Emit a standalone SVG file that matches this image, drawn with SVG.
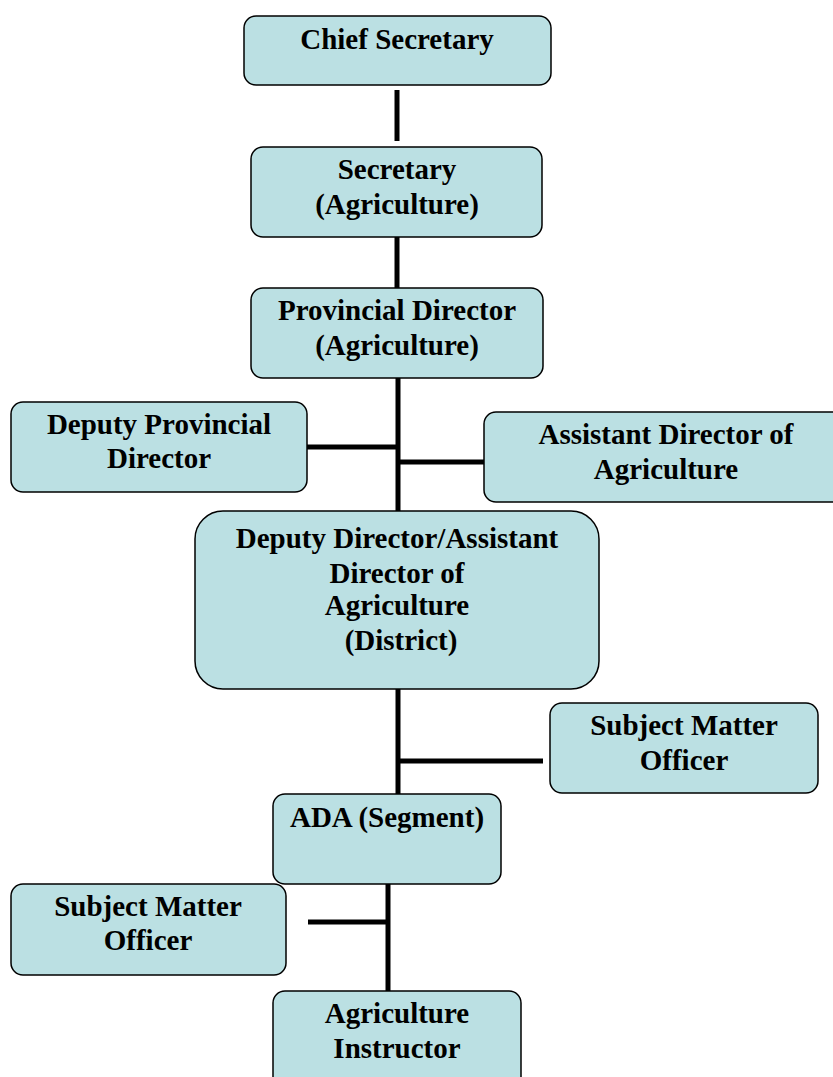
<svg xmlns="http://www.w3.org/2000/svg" width="833" height="1077" viewBox="0 0 833 1077">
<style>
.box{fill:#BBE0E3;stroke:#000;stroke-width:1.5}
.t{font-family:"Liberation Serif","Times New Roman",serif;font-weight:bold;font-size:29px;fill:#000;text-anchor:middle}
.c{stroke:#000;stroke-width:5;fill:none}
</style>
<rect width="833" height="1077" fill="#fff"/>
<g id="connectors">
<line class="c" x1="397" y1="90" x2="397" y2="141"/>
<line class="c" x1="397" y1="237" x2="397" y2="288"/>
<line class="c" x1="398" y1="378" x2="398" y2="511"/>
<line class="c" x1="307" y1="447" x2="398" y2="447"/>
<line class="c" x1="398" y1="462" x2="484" y2="462"/>
<line class="c" x1="398" y1="689" x2="398" y2="794"/>
<line class="c" x1="398" y1="761" x2="543" y2="761"/>
<line class="c" x1="388" y1="884" x2="388" y2="991"/>
<line class="c" x1="308" y1="922" x2="388" y2="922"/>
</g>
<g id="chief-secretary">
<rect class="box" x="244" y="16" width="307" height="69" rx="12"/>
<text class="t" x="397" y="49">Chief Secretary</text>
</g>
<g id="secretary">
<rect class="box" x="251" y="147" width="291" height="90" rx="12"/>
<text class="t" x="397" y="179">Secretary</text>
<text class="t" x="397" y="214">(Agriculture)</text>
</g>
<g id="provincial-director">
<rect class="box" x="251" y="288" width="292" height="90" rx="12"/>
<text class="t" x="397" y="320">Provincial Director</text>
<text class="t" x="397" y="355">(Agriculture)</text>
</g>
<g id="deputy-provincial-director">
<rect class="box" x="11" y="402" width="296" height="90" rx="12"/>
<text class="t" x="159" y="434">Deputy Provincial</text>
<text class="t" x="159" y="468">Director</text>
</g>
<g id="assistant-director">
<rect class="box" x="484" y="412" width="360" height="90" rx="12"/>
<text class="t" x="666" y="444">Assistant Director of</text>
<text class="t" x="666" y="479">Agriculture</text>
</g>
<g id="deputy-director-district">
<rect class="box" x="195" y="511" width="404" height="178" rx="28"/>
<text class="t" x="397" y="548">Deputy Director/Assistant</text>
<text class="t" x="397" y="583">Director of</text>
<text class="t" x="397" y="615">Agriculture</text>
<text class="t" x="401" y="650">(District)</text>
</g>
<g id="subject-matter-officer-1">
<rect class="box" x="550" y="703" width="268" height="90" rx="12"/>
<text class="t" x="684" y="735">Subject Matter</text>
<text class="t" x="684" y="770">Officer</text>
</g>
<g id="ada-segment">
<rect class="box" x="273" y="794" width="228" height="90" rx="12"/>
<text class="t" x="387" y="827">ADA (Segment)</text>
</g>
<g id="subject-matter-officer-2">
<rect class="box" x="11" y="884" width="275" height="91" rx="12"/>
<text class="t" x="148" y="916">Subject Matter</text>
<text class="t" x="148" y="950">Officer</text>
</g>
<g id="agriculture-instructor">
<rect class="box" x="273" y="991" width="248" height="100" rx="12"/>
<text class="t" x="397" y="1023">Agriculture</text>
<text class="t" x="397" y="1058">Instructor</text>
</g>
</svg>
